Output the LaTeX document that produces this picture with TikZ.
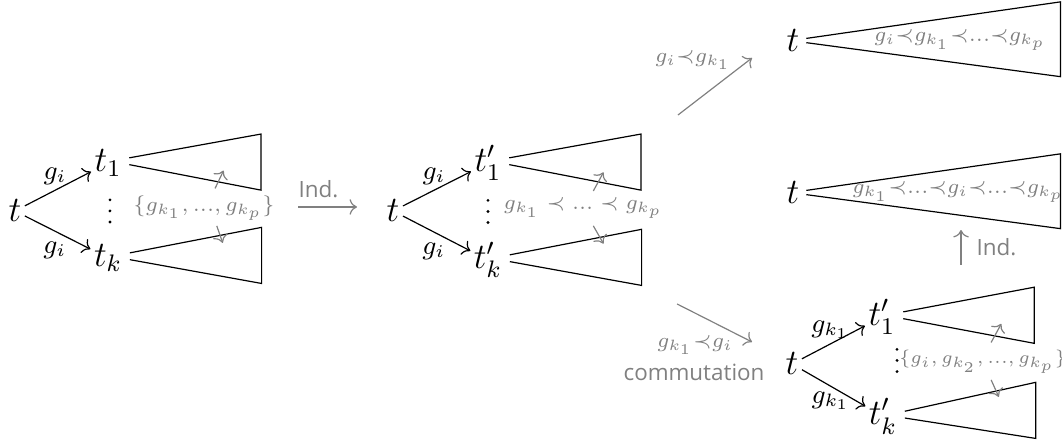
\documentclass[tikz,border=0pt]{standalone}
\usepackage{amsmath,amssymb}
\usepackage{fontspec}
\newfontfamily\lblfont{Open Sans}
\usetikzlibrary{arrows.meta,calc}
\definecolor{lblgray}{gray}{0.5}

\begin{document}
\begin{tikzpicture}[>=To,
        tnode/.style={inner sep=1pt,font=\large},
        edgelbl/.style={inner sep=1pt,font=\small},
        setlbl/.style={inner sep=1pt,text=lblgray,font=\fontsize{6.6}{8}\selectfont},
        steplbl/.style={inner sep=1pt,text=lblgray,font=\lblfont\fontsize{7.5}{9}\selectfont},
        setarrow/.style={lblgray,->}]
    \useasboundingbox (0,0) rectangle (12.494,5.188);

    % first tree
    \node[tnode] (t) at (0.176,2.706) {$t$};
    \node[tnode] (t1) at (1.271,3.271) {$t_1$};
    \node[tnode] (tk) at (1.271,2.153) {$t_k$};
    \coordinate (d1) at (1.294,2.706);
    \foreach \k in {-1,0,1}
        \fill ($(d1)+(0,\k*0.13)$) circle (0.018);
    \draw[->] (t) -- node[edgelbl,above,xshift=-1pt] {$g_i$} (t1);
    \draw[->] (t) -- node[edgelbl,below=2pt,xshift=-1pt] {$g_i$} (tk);
    \draw ($(t1.east)+(0.05,0.06)$) -- ++(1.55,0.28) -- ++(0,-0.66) -- ($(t1.east)+(0.05,-0.02)$);
    \draw ($(tk.east)+(0.05,0.06)$) -- ++(1.55,0.3) -- ++(0,-0.66) -- ($(tk.east)+(0.05,-0.02)$);
    \node[setlbl] (s1) at (2.4,2.741) {$\{g_{k_1},...,g_{k_p}\}$};
    \draw[setarrow] ($(s1)+(0.13,0.23)$) -- ++(0.1,0.21);
    \draw[setarrow] ($(s1)+(0.15,-0.21)$) -- ++(0.07,-0.2);

    % induction
    \coordinate (i1) at (3.506,2.753);
    \coordinate (i2) at (4.2,2.753);
    \draw[setarrow] (i1) -- node[steplbl,above=2pt,xshift=-3pt] {Ind.} (i2);

    % second tree
    \node[tnode] (u) at (4.624,2.706) {$t$};
    \node[tnode] (u1) at (5.741,3.271) {$t'_1$};
    \node[tnode] (uk) at (5.741,2.13) {$t'_k$};
    \coordinate (d2) at (5.741,2.7);
    \foreach \k in {-1,0,1}
        \fill ($(d2)+(0,\k*0.13)$) circle (0.018);
    \draw[->] (u) -- node[edgelbl,above,xshift=-1pt] {$g_i$} (u1);
    \draw[->] (u) -- node[edgelbl,below=2pt,xshift=-1pt] {$g_i$} (uk);
    \draw ($(u1.east)+(0.05,0.06)$) -- ++(1.55,0.28) -- ++(0,-0.66) -- ($(u1.east)+(0.05,-0.02)$);
    \draw ($(uk.east)+(0.05,0.06)$) -- ++(1.55,0.3) -- ++(0,-0.66) -- ($(uk.east)+(0.05,-0.02)$);
    \node[setlbl] (s2) at (6.86,2.741) {$g_{k_1}\prec...\prec g_{k_p}$};
    \draw[setarrow] ($(s2)+(0.12,0.2)$) -- ++(0.12,0.22);
    \draw[setarrow] ($(s2)+(0.12,-0.21)$) -- ++(0.12,-0.21);

    % case g_i before g_k1
    \coordinate (a1) at (7.976,3.835);
    \coordinate (a2) at (8.847,4.506);
    \draw[setarrow] (a1) -- (a2);
    \node[setlbl] (c1) at (8.153,4.482) {$g_i{\prec}g_{k_1}$};
    \node[tnode] (v) at (9.329,4.706) {$t$};
    \draw ($(v.east)+(0.04,0.03)$) -- ++(2.99,0.43) -- ++(0,-0.88) -- ($(v.east)+(0.04,-0.02)$);
    \node[setlbl] (s3) at (11.294,4.718) {$g_i{\prec}g_{k_1}{\prec}...{\prec}g_{k_p}$};

    % merged result
    \node[tnode] (w) at (9.329,2.918) {$t$};
    \draw ($(w.east)+(0.04,0.03)$) -- ++(2.99,0.43) -- ++(0,-0.88) -- ($(w.east)+(0.04,-0.02)$);
    \node[setlbl] (s4) at (11.271,2.929) {$g_{k_1}{\prec}...{\prec}g_i{\prec}...{\prec}g_{k_p}$};
    \coordinate (b1) at (11.306,2.071);
    \coordinate (b2) at (11.306,2.482);
    \draw[setarrow] (b1) -- node[steplbl,right=4pt] {Ind.} (b2);

    % case g_k1 before g_i
    \coordinate (e1) at (7.965,1.612);
    \coordinate (e2) at (8.847,1.165);
    \draw[setarrow] (e1) -- (e2);
    \node[setlbl] (c2) at (8.176,1.129) {$g_{k_1}{\prec}g_i$};
    \node[steplbl] (cm) at (8.165,0.812) {commutation};
    \node[tnode] (x) at (9.318,0.906) {$t$};
    \node[tnode] (x1) at (10.376,1.459) {$t'_1$};
    \node[tnode] (xk) at (10.388,0.29) {$t'_k$};
    \coordinate (d3) at (10.553,0.947);
    \foreach \k in {-1,0,1}
        \fill ($(d3)+(0,\k*0.13)$) circle (0.018);
    \draw[->] (x) -- node[edgelbl,above,xshift=-1pt] {$g_{k_1}$} (x1);
    \draw[->] (x) -- node[edgelbl,below,xshift=-1pt] {$g_{k_1}$} (xk);
    \draw ($(x1.east)+(0.05,0.06)$) -- ++(1.54,0.29) -- ++(0,-0.66) -- ($(x1.east)+(0.05,-0.02)$);
    \draw ($(xk.east)+(0.05,0.06)$) -- ++(1.54,0.34) -- ++(0,-0.66) -- ($(xk.east)+(0.05,-0.02)$);
    \node[setlbl,font=\fontsize{6.3}{8}\selectfont] (s5) at (11.56,0.929) {$\{g_i,g_{k_2},...,g_{k_p}\}$};
    \draw[setarrow] ($(s5)+(0.1,0.23)$) -- ++(0.12,0.22);
    \draw[setarrow] ($(s5)+(0.1,-0.21)$) -- ++(0.09,-0.2);
\end{tikzpicture}
\end{document}
